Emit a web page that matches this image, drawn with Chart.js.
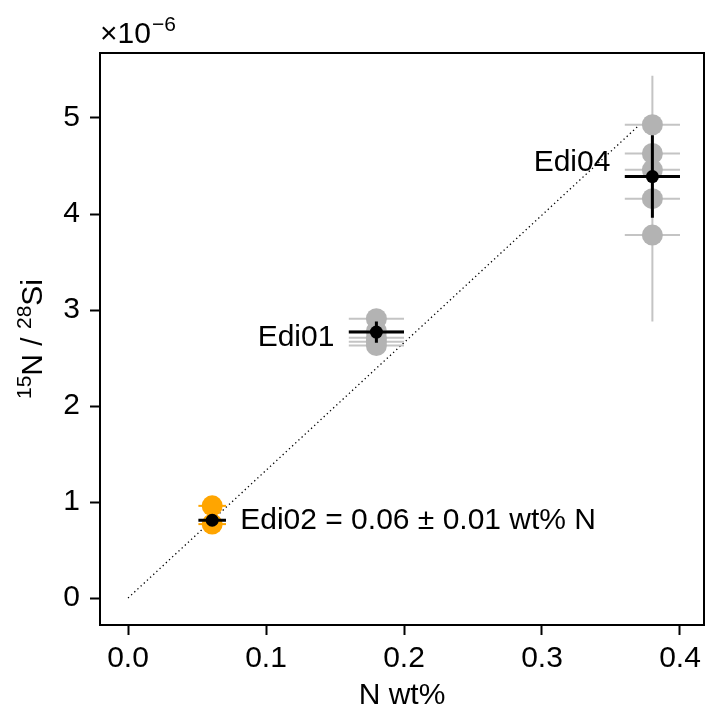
<!DOCTYPE html>
<html>
<head>
<meta charset="utf-8">
<script src="https://cdn.jsdelivr.net/npm/chart.js@4.4.0/dist/chart.umd.min.js"></script>
<style>
  html, body { margin: 0; padding: 0; background: #fff; }
  #wrap { width: 706px; height: 709px; }
</style>
</head>
<body>
<div id="wrap"><canvas id="chart" width="706" height="709"></canvas></div>
<script>
// 15N/28Si values are in units of 1e-6
const edi04X = 0.38;
const edi04Y = [4.93, 4.63, 4.46, 4.16, 3.78];
const edi04XErr = [0.02, 0.02, 0.02, 0.02, 0.02];
const edi04YErr = [0, 0, 0, 1.28, 0];

const edi01X = 0.18;
const edi01Y = [2.91, 2.78, 2.71, 2.67, 2.63];
const edi01XErr = [0.02, 0.02, 0.02, 0.02, 0.02];

const edi02X = 0.061;
const edi02Y = [0.96, 0.77];
const edi02XErr = [0.01, 0.01];

const meanNames = ['Edi04', 'Edi01', 'Edi02 = 0.06 ± 0.01 wt% N'];
const meanX = [0.38, 0.18, 0.061];
const meanY = [4.39, 2.77, 0.81];
const meanXErr = [0.02, 0.02, 0.01];
const meanYErr = [0.43, 0.11, 0.03];

const lineX = [0, 0.37];
const lineY = [0, 4.92];

const xTicks = [0, 0.1, 0.2, 0.3, 0.4];
const yTicks = [0, 1, 2, 3, 4, 5];

const FONT = "'Liberation Sans', Arial, sans-serif";
const FS = 30;
const SUP = 21;

function pts(x, ys) {
    return ys.map(y => ({ x: x, y: y }));
}

const errorBars = {
    id: 'errorBars',
    beforeDatasetDraw(chart, args) {
        const ds = chart.data.datasets[args.index];
        if (!ds.xErr) return;
        const xs = chart.scales.x, ys = chart.scales.y, ctx = chart.ctx;
        ctx.save();
        ctx.strokeStyle = ds.errColor;
        ctx.lineWidth = ds.errWidth;
        ds.data.forEach((p, i) => {
            const px = xs.getPixelForValue(p.x), py = ys.getPixelForValue(p.y);
            const ex = ds.xErr[i] || 0, ey = (ds.yErr && ds.yErr[i]) || 0;
            ctx.beginPath();
            if (ex) {
                ctx.moveTo(xs.getPixelForValue(p.x - ex), py);
                ctx.lineTo(xs.getPixelForValue(p.x + ex), py);
            }
            if (ey) {
                ctx.moveTo(px, ys.getPixelForValue(p.y - ey));
                ctx.lineTo(px, ys.getPixelForValue(p.y + ey));
            }
            ctx.stroke();
        });
        ctx.restore();
    }
};

function drawRich(ctx, parts, x, y) {
    // parts: [text, isSup]
    let total = 0;
    parts.forEach(p => {
        ctx.font = (p[1] ? SUP : FS) + 'px ' + FONT;
        p.w = ctx.measureText(p[0]).width;
        total += p.w;
    });
    let cx = x - total / 2;
    parts.forEach(p => {
        ctx.font = (p[1] ? SUP : FS) + 'px ' + FONT;
        ctx.fillText(p[0], cx, p[1] ? y - 11 : y);
        cx += p.w;
    });
}

const decorations = {
    id: 'decorations',
    afterDraw(chart) {
        const ctx = chart.ctx, a = chart.chartArea;
        const xs = chart.scales.x, ys = chart.scales.y;
        ctx.save();
        // top and right spines
        ctx.strokeStyle = '#000';
        ctx.lineWidth = 2;
        ctx.beginPath();
        ctx.moveTo(a.left - 1, a.top);
        ctx.lineTo(a.right, a.top);
        ctx.lineTo(a.right, a.bottom + 1);
        ctx.stroke();

        ctx.fillStyle = '#000';
        ctx.textBaseline = 'middle';
        ctx.font = FS + 'px ' + FONT;
        // point labels
        const offs = [[-42, -14, 'right'], [-42, 6, 'right'], [28, 0, 'left']];
        meanNames.forEach((name, i) => {
            ctx.textAlign = offs[i][2];
            ctx.fillText(name, xs.getPixelForValue(meanX[i]) + offs[i][0],
                ys.getPixelForValue(meanY[i]) + offs[i][1]);
        });

        // x title
        ctx.textAlign = 'center';
        ctx.fillText('N wt%', (a.left + a.right) / 2, 696);

        // offset text
        ctx.textBaseline = 'alphabetic';
        ctx.textAlign = 'left';
        ctx.font = FS + 'px ' + FONT;
        ctx.fillText('×10', a.left, 43);
        const w = ctx.measureText('×10').width;
        ctx.font = SUP + 'px ' + FONT;
        ctx.fillText('−6', a.left + w + 1, 31);

        // y title
        ctx.translate(42, (a.top + a.bottom) / 2);
        ctx.rotate(-Math.PI / 2);
        drawRich(ctx, [['15', true], ['N / ', false], ['28', true], ['Si', false]], 0, 0);
        ctx.restore();
    }
};

const ctx = document.getElementById('chart').getContext('2d');
const chart = new Chart(ctx, {
    type: 'scatter',
    data: {
        datasets: [
            {
                type: 'line',
                data: lineX.map((x, i) => ({ x: x, y: lineY[i] })),
                borderColor: '#000',
                borderWidth: 1.3,
                borderDash: [1.3, 3],
                pointRadius: 0,
                fill: false,
                order: 10
            },
            {
                data: pts(edi04X, edi04Y),
                xErr: edi04XErr, yErr: edi04YErr,
                errColor: '#c4c4c4', errWidth: 2,
                backgroundColor: '#b3b3b3', borderWidth: 0, pointRadius: 10.5,
                order: 5
            },
            {
                data: pts(edi01X, edi01Y),
                xErr: edi01XErr,
                errColor: '#c4c4c4', errWidth: 2,
                backgroundColor: '#b3b3b3', borderWidth: 0, pointRadius: 10.5,
                order: 5
            },
            {
                data: pts(edi02X, edi02Y),
                xErr: edi02XErr,
                errColor: '#ffa500', errWidth: 2,
                backgroundColor: '#ffa500', borderWidth: 0, pointRadius: 10.5,
                order: 5
            },
            {
                data: meanX.map((x, i) => ({ x: x, y: meanY[i] })),
                xErr: meanXErr, yErr: meanYErr,
                errColor: '#000', errWidth: 3,
                backgroundColor: '#000', borderWidth: 0, pointRadius: 6.5,
                order: 1
            }
        ]
    },
    options: {
        responsive: false,
        animation: false,
        events: [],
        layout: { autoPadding: false, padding: { top: 53, right: 2, left: 0, bottom: 0 } },
        plugins: { legend: { display: false }, tooltip: { enabled: false } },
        scales: {
            x: {
                type: 'linear',
                min: -0.0203,
                max: 0.4174,
                afterBuildTicks: s => { s.ticks = xTicks.map(v => ({ value: v })); },
                afterFit: s => { s.height = 84; s.paddingLeft = 0; s.paddingRight = 0; },
                grid: { drawOnChartArea: false, tickLength: 10, tickWidth: 2, tickColor: '#000' },
                border: { color: '#000', width: 2 },
                ticks: {
                    color: '#000', font: { family: FONT, size: FS }, padding: 6,
                    maxRotation: 0, autoSkip: false,
                    callback: v => v.toFixed(1)
                }
            },
            y: {
                type: 'linear',
                min: -0.281,
                max: 5.677,
                afterBuildTicks: s => { s.ticks = yTicks.map(v => ({ value: v })); },
                afterFit: s => { s.width = 100; s.paddingTop = 0; s.paddingBottom = 0; },
                grid: { drawOnChartArea: false, tickLength: 10, tickWidth: 2, tickColor: '#000' },
                border: { color: '#000', width: 2 },
                ticks: {
                    color: '#000', font: { family: FONT, size: FS }, padding: 10,
                    autoSkip: false,
                    callback: v => String(v)
                }
            }
        }
    },
    plugins: [errorBars, decorations]
});
</script>
</body>
</html>
